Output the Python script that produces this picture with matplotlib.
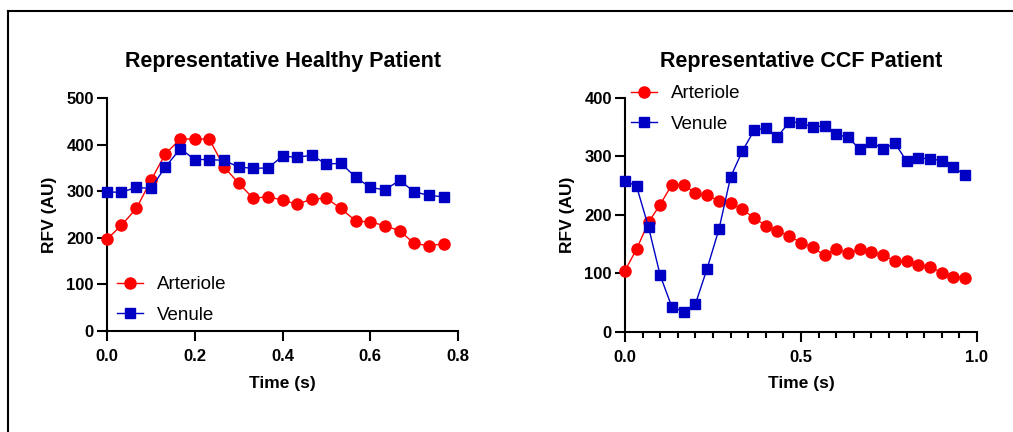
import numpy as np
import matplotlib
matplotlib.use('Agg')
import matplotlib.pyplot as plt
from matplotlib.lines import Line2D
from matplotlib.ticker import MultipleLocator

plt.rcParams['font.family'] = ['Liberation Sans', 'DejaVu Sans']

# healthy patient, 30 frames per second
t_healthy = [0.000, 0.033, 0.067, 0.100, 0.133, 0.167, 0.200, 0.233,
             0.267, 0.300, 0.333, 0.367, 0.400, 0.433, 0.467, 0.500,
             0.533, 0.567, 0.600, 0.633, 0.667, 0.700, 0.733, 0.767]
art_healthy = [197, 227, 263, 323, 380, 412, 412, 412, 352, 317, 285, 288,
               281, 272, 283, 285, 263, 236, 234, 226, 215, 188, 183, 187]
ven_healthy = [298, 298, 308, 306, 352, 391, 368, 368, 366, 352, 349, 350,
               375, 373, 377, 358, 360, 330, 308, 303, 323, 299, 291, 288]

# CCF patient
t_ccf = [0.000, 0.033, 0.067, 0.100, 0.133, 0.167, 0.200, 0.233, 0.267, 0.300,
         0.333, 0.367, 0.400, 0.433, 0.467, 0.500, 0.533, 0.567, 0.600, 0.633,
         0.667, 0.700, 0.733, 0.767, 0.800, 0.833, 0.867, 0.900, 0.933, 0.967]
art_ccf = [104, 141, 187, 217, 251, 251, 236, 233, 223, 219,
           209, 194, 181, 172, 163, 152, 144, 130, 141, 134,
           141, 136, 131, 120, 120, 114, 111, 100, 94, 92]
ven_ccf = [258, 248, 178, 96, 42, 34, 47, 107, 175, 264,
           308, 344, 348, 333, 358, 357, 349, 352, 337, 332,
           312, 324, 312, 322, 291, 297, 295, 292, 281, 267]

RED = '#FF0000'
BLUE = '#0000C4'
W, H = 1013.0, 432.0

fig = plt.figure(figsize=(W / 100, H / 100), dpi=100)

# frame lines of the original screenshot
fig.add_artist(Line2D([8 / W, 1.0], [1 - 11 / H, 1 - 11 / H], color='black', lw=1.5))
fig.add_artist(Line2D([8 / W, 8 / W], [1 - 11 / H, 0.0], color='black', lw=1.5))

def style_axes(ax, title):
    for s in ['top', 'right']:
        ax.spines[s].set_visible(False)
    for s in ['left', 'bottom']:
        ax.spines[s].set_linewidth(1.5)
    ax.tick_params(which='major', direction='out', length=7, width=1.5, labelsize=12)
    ax.tick_params(axis='x', which='major', pad=6)
    ax.tick_params(axis='y', which='major', pad=2.5)
    ax.tick_params(which='minor', direction='out', length=4.5, width=1.5)
    for lab in ax.get_xticklabels() + ax.get_yticklabels():
        lab.set_fontweight('bold')
    ax.set_title(title, fontsize=15.5, fontweight='bold', pad=22)
    ax.set_xlabel('Time (s)', fontsize=12.5, fontweight='bold', labelpad=8.5)
    ax.set_ylabel('RFV (AU)', fontsize=12.5, fontweight='bold', labelpad=7)

def draw(ax, t, art, ven):
    ax.plot(t, art, '-o', color=RED, ms=8, lw=1, label='Arteriole', clip_on=False, zorder=3)
    ax.plot(t, ven, '-s', color=BLUE, ms=7, lw=1, label='Venule', clip_on=False, zorder=3)

def add_legend(ax, x, y):
    ax.legend(loc='upper left', bbox_to_anchor=(x / W, 1 - y / H),
              bbox_transform=fig.transFigure, frameon=False, fontsize=13.5,
              numpoints=1, handlelength=1.4, handletextpad=0.75,
              labelspacing=0.72, borderpad=0, borderaxespad=0)

# left panel
ax1 = fig.add_axes([107 / W, 1 - 331 / H, 351 / W, 233 / H])
draw(ax1, t_healthy, art_healthy, ven_healthy)
ax1.set_xlim(0, 0.8)
ax1.set_ylim(0, 500)
ax1.set_xticks([0.0, 0.2, 0.4, 0.6, 0.8])
ax1.set_yticks([0, 100, 200, 300, 400, 500])
ax1.xaxis.set_major_formatter(plt.FormatStrFormatter('%.1f'))
style_axes(ax1, 'Representative Healthy Patient')
add_legend(ax1, 117, 276)

# right panel
ax2 = fig.add_axes([625 / W, 1 - 331.5 / H, 352 / W, 234 / H])
draw(ax2, t_ccf, art_ccf, ven_ccf)
ax2.set_xlim(0, 1.0)
ax2.set_ylim(0, 400)
ax2.set_xticks([0.0, 0.5, 1.0])
ax2.xaxis.set_minor_locator(MultipleLocator(0.05))
ax2.set_yticks([0, 100, 200, 300, 400])
ax2.xaxis.set_major_formatter(plt.FormatStrFormatter('%.1f'))
style_axes(ax2, 'Representative CCF Patient')
add_legend(ax2, 631, 85)

fig.savefig('out.png', dpi=100)
